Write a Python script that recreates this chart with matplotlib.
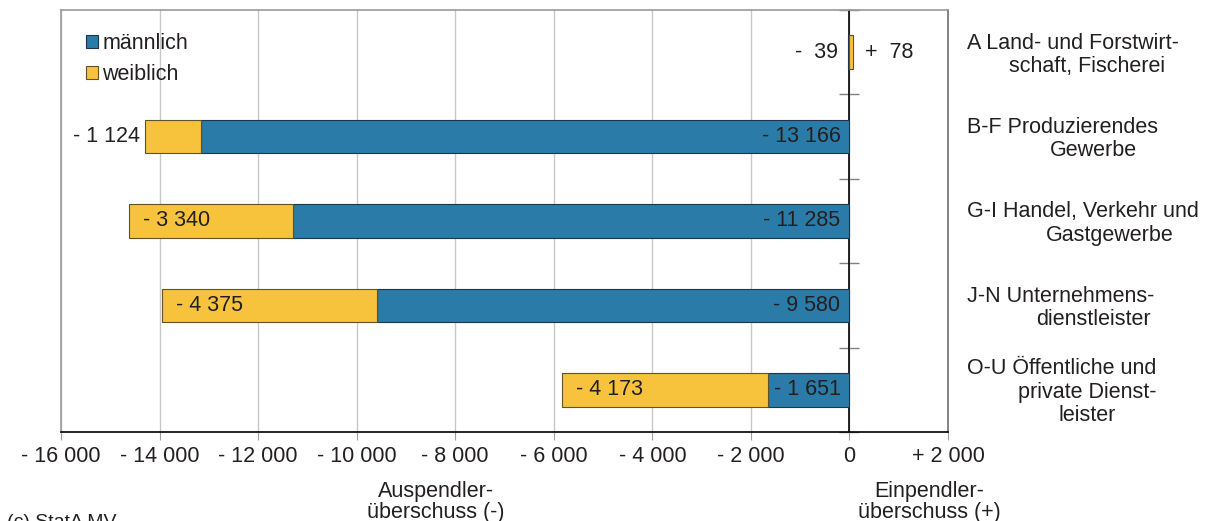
import matplotlib
matplotlib.use("Agg")
import matplotlib.pyplot as plt
from matplotlib.patches import Patch

# ---------------- data ----------------
categories = [
    "A Land- und Forstwirt-\nschaft, Fischerei",
    "B-F Produzierendes\nGewerbe",
    "G-I Handel, Verkehr und\nGastgewerbe",
    "J-N Unternehmens-\ndienstleister",
    "O-U Öffentliche und\nprivate Dienst-\nleister",
]
maennlich = [-39, -13166, -11285, -9580, -1651]
weiblich = [78, -1124, -3340, -4375, -4173]
series_names = ["männlich", "weiblich"]
xticks = [-16000, -14000, -12000, -10000, -8000, -6000, -4000, -2000, 0, 2000]
xticklabels = ["- 16 000", "- 14 000", "- 12 000", "- 10 000", "- 8 000",
               "- 6 000", "- 4 000", "- 2 000", "0", "+ 2 000"]
axis_left_label = "Auspendler-\nüberschuss (-)"
axis_right_label = "Einpendler-\nüberschuss (+)"
source = "(c) StatA MV"

# ---------------- style ----------------
W, H = 1208, 521
BLUE = "#2b7ba8"
YELLOW = "#f8c33c"
BLUE_EDGE = "#1d3548"
YELLOW_EDGE = "#5e5228"
TXT = "#231f20"
FS = 15.5
plt.rcParams["font.family"] = ["Liberation Sans", "DejaVu Sans"]

fig = plt.figure(figsize=(W / 100, H / 100), dpi=100)
ax_l, ax_r, ax_t, ax_b = 61, 948, 10, 432
ax = fig.add_axes([ax_l / W, 1 - ax_b / H, (ax_r - ax_l) / W, (ax_b - ax_t) / H])


def fx(px):
    return px / W


def fy(py):
    return 1 - py / H


def fmt(v):
    sign = "-" if v < 0 else "+"
    s = f"{abs(v):,}".replace(",", " ")
    return f"{sign} {s:>3}"


ypos = list(range(len(categories)))
bh = 0.4
m_left = [0] * len(maennlich)
w_left = [m if w < 0 else 0 for m, w in zip(maennlich, weiblich)]

ax.barh(ypos, maennlich, left=m_left, height=bh, color=BLUE,
        edgecolor=BLUE_EDGE, linewidth=0.8, zorder=3)
ax.barh(ypos, weiblich, left=w_left, height=bh, color=YELLOW,
        edgecolor=YELLOW_EDGE, linewidth=0.8, zorder=3)

ax.set_xlim(-16000, 2000)
ax.set_ylim(len(categories) - 0.5, -0.5)

# grid
ax.set_xticks(xticks)
ax.set_xticklabels(xticklabels, fontsize=FS, color=TXT)
ax.tick_params(axis="x", direction="out", length=6, color="#a0a0a0",
               pad=4)
ax.set_yticks([])
ax.grid(axis="x", color="#c8c8c8", linewidth=1, zorder=0)
ax.axvline(0, color="black", linewidth=1.2, zorder=2.5)

for s in ["left", "top"]:
    ax.spines[s].set_color("#9a9a9a")
ax.spines["right"].set_color("#707070")
ax.spines["bottom"].set_color("black")
for s in ax.spines.values():
    s.set_linewidth(1.2)

# separator ticks on the zero line
sec = ax.secondary_yaxis(16000 / 18000)
sec.set_yticks([i + 0.5 for i in range(-1, len(categories))])
sec.set_yticklabels([])
sec.tick_params(direction="inout", length=14, color="#808080", width=1)
sec.spines["left"].set_visible(False)
sec.spines["right"].set_visible(False)

# value labels
for i, (m, w) in enumerate(zip(maennlich, weiblich)):
    if w > 0:
        ax.annotate(fmt(m), (min(m, 0), i), xytext=(-10, 0),
                    textcoords="offset pixels", ha="right", va="center",
                    fontsize=FS, color=TXT, zorder=5)
        ax.annotate(fmt(w), (w, i), xytext=(12, 0),
                    textcoords="offset pixels", ha="left", va="center",
                    fontsize=FS, color=TXT, zorder=5)
        continue
    ax.annotate(fmt(m), (0, i), xytext=(-9, 0), textcoords="offset pixels",
                ha="right", va="center", fontsize=FS, color=TXT, zorder=5)
    end = m + w
    if abs(w) < 1500:
        ax.annotate(fmt(w), (end, i), xytext=(-5, 0),
                    textcoords="offset pixels", ha="right", va="center",
                    fontsize=FS, color=TXT, zorder=5)
    else:
        ax.annotate(fmt(w), (end, i), xytext=(14, 0),
                    textcoords="offset pixels", ha="left", va="center",
                    fontsize=FS, color=TXT, zorder=5)

# category labels on the right
row_h = (ax_b - ax_t) / len(categories)
cont_x = [[1009], [1050], [1046], [1036], [1018, 1058]]
line_gap = 23.3
for i, cat in enumerate(categories):
    lines = cat.split("\n")
    yc = ax_t + row_h * (i + 0.5)
    y0 = yc - line_gap * (len(lines) - 1) / 2
    for j, ln in enumerate(lines):
        x = 967 if j == 0 else cont_x[i][j - 1]
        fig.text(fx(x), fy(y0 + j * line_gap), ln, ha="left",
                 va="center_baseline", fontsize=FS, color=TXT)

# legend
handles = [Patch(facecolor=BLUE, edgecolor=BLUE_EDGE, linewidth=0.8),
           Patch(facecolor=YELLOW, edgecolor=YELLOW_EDGE, linewidth=0.8)]
leg = ax.legend(handles, series_names, loc="upper left",
                bbox_to_anchor=((86 - ax_l) / (ax_r - ax_l), 0.945),
                frameon=False, fontsize=FS, handlelength=0.56,
                handleheight=0.56, handletextpad=0.2, labelspacing=0.45,
                borderpad=0, borderaxespad=0)
for t in leg.get_texts():
    t.set_color(TXT)

# axis titles
for k, ln in enumerate(axis_left_label.split("\n")):
    fig.text(fx(436), fy(489 + k * 21), ln, ha="center",
             va="center_baseline", fontsize=FS, color=TXT)
for k, ln in enumerate(axis_right_label.split("\n")):
    fig.text(fx(929), fy(489 + k * 21), ln, ha="center",
             va="center_baseline", fontsize=FS, color=TXT)
fig.text(fx(7), fy(514), source, ha="left", va="top", fontsize=14,
         color=TXT)

fig.savefig("out.png", dpi=100)
